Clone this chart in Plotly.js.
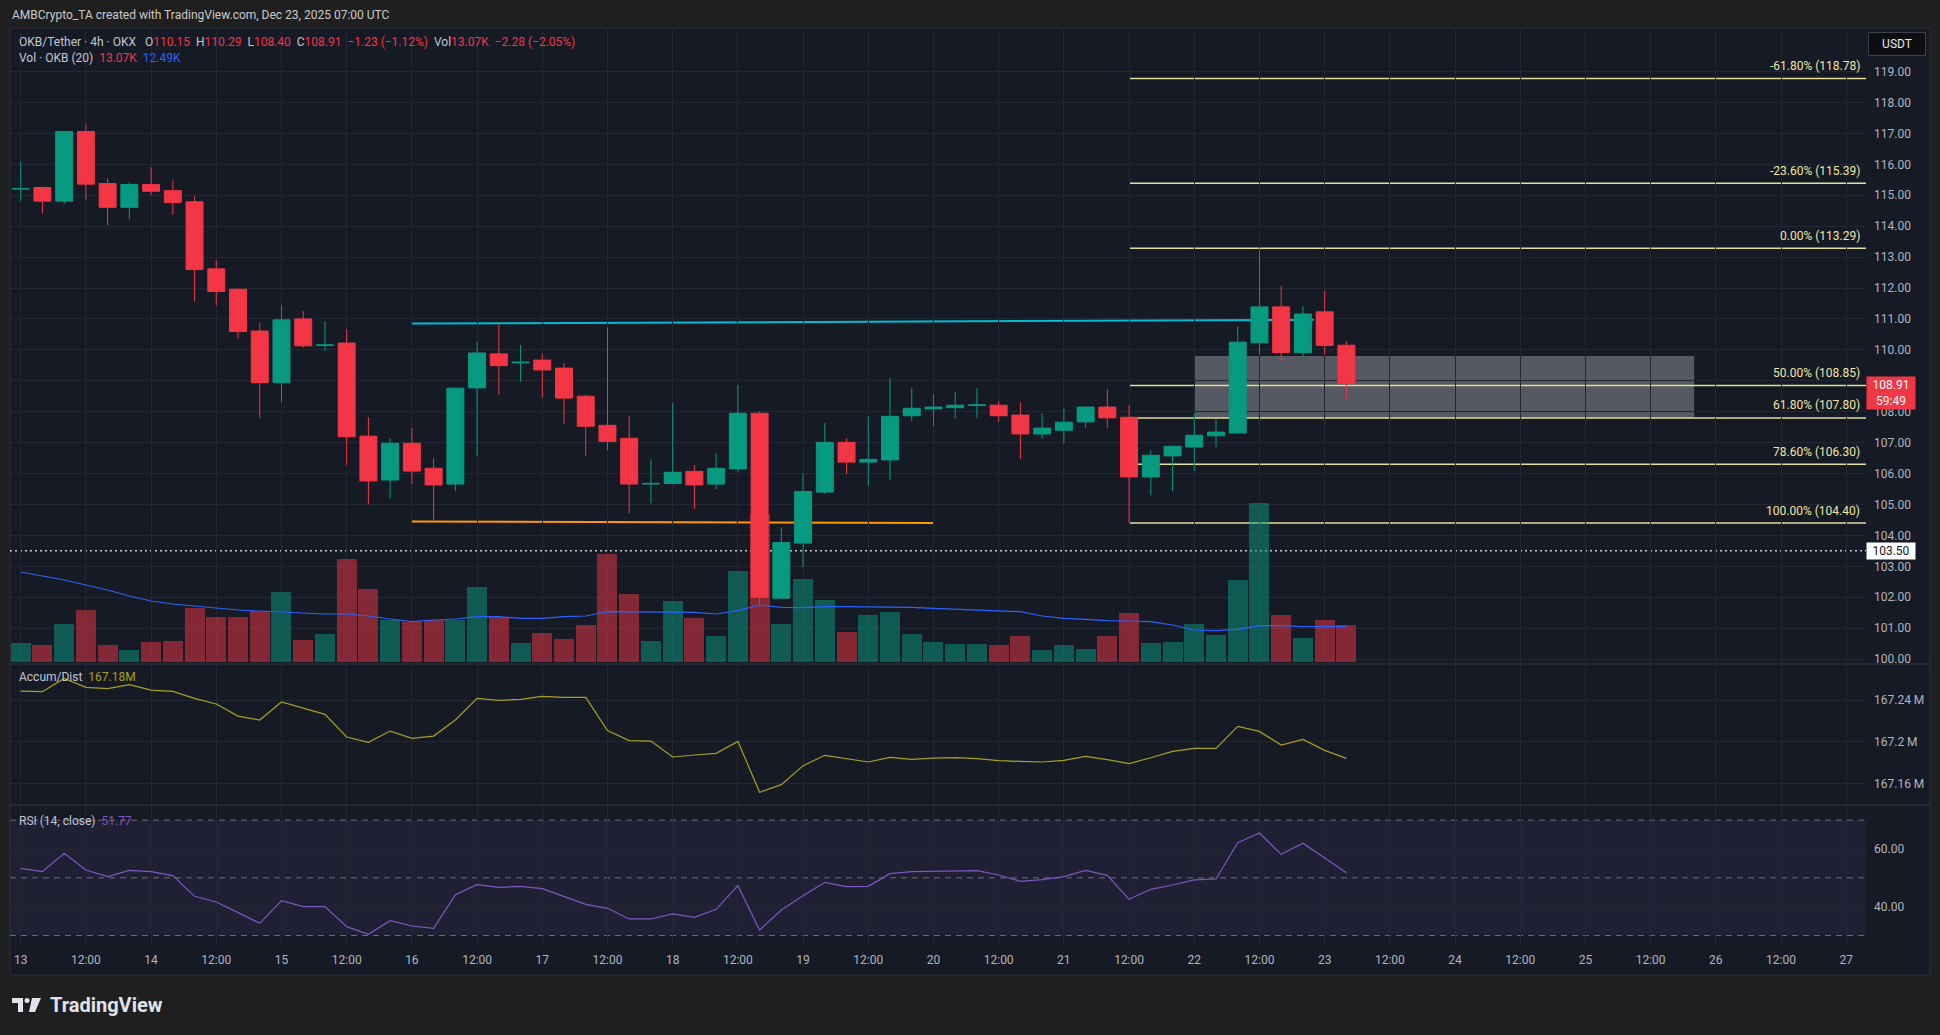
<!DOCTYPE html>
<html><head><meta charset="utf-8">
<script src="https://cdn.plot.ly/plotly-3.0.1.min.js"></script>
<style>html,body{margin:0;padding:0;background:#1f1f1f;overflow:hidden}#chart{width:1940px;height:1035px}</style>
</head><body><div id="chart"></div>
<script>
// ---------- DATA (OKB/Tether 4h, OKX) ----------
const startTime = Date.UTC(2025, 11, 13, 0, 0); // first candle: Dec 13 00:00
const openP = [115.20,115.25,114.81,117.06,115.38,114.61,115.35,115.15,114.79,112.62,
111.96,110.61,108.94,111.00,110.14,110.22,107.21,105.79,106.98,106.17,
105.66,108.77,109.87,109.58,109.67,109.41,108.50,107.56,107.14,105.66,
105.68,106.07,105.66,106.15,107.95,101.97,103.75,105.40,107.01,106.37,
106.44,107.87,108.09,108.13,108.20,108.21,107.89,107.28,107.40,107.67,
108.15,107.82,105.89,106.57,106.86,107.22,107.31,110.23,111.39,109.91,
111.23,110.15];
const highP = [116.09,115.27,117.10,117.29,115.54,115.41,115.90,115.48,114.96,112.90,
111.98,110.87,111.45,111.26,110.93,110.68,107.82,107.14,107.47,106.49,
108.78,110.25,110.83,110.16,109.87,109.57,108.54,110.72,107.85,106.46,
108.28,106.27,106.66,108.86,108.02,104.26,106.01,107.63,107.14,107.85,
109.09,108.76,108.57,108.64,108.76,108.34,108.31,107.95,108.11,108.15,
108.73,108.21,106.75,106.91,107.95,107.77,110.76,113.29,112.07,111.42,
111.92,110.29];
const lowP = [114.81,114.42,114.71,114.84,114.03,114.22,115.00,114.38,111.56,111.43,
110.36,107.80,108.32,110.07,109.97,106.28,105.00,105.20,105.66,104.48,
105.43,106.57,108.55,108.97,108.45,107.61,106.57,106.76,104.72,105.04,
105.66,104.85,105.50,106.05,101.77,101.95,102.97,105.34,105.98,105.60,
105.79,107.70,107.54,107.77,107.80,107.67,106.47,107.12,106.96,107.48,
107.48,104.40,105.30,105.43,106.08,106.86,107.31,109.84,109.65,109.78,
109.84,108.40];
const closeP = [115.22,114.81,117.06,115.36,114.61,115.35,115.13,114.77,112.60,111.89,
110.59,108.94,110.97,110.13,110.16,107.19,105.76,106.98,106.08,105.63,
108.76,109.90,109.49,109.60,109.35,108.44,107.53,107.04,105.66,105.68,
106.04,105.63,106.17,107.95,102.00,103.77,105.42,107.01,106.37,106.46,
107.85,108.11,108.15,108.21,108.22,107.87,107.28,107.47,107.66,108.15,
107.80,105.89,106.59,106.88,107.24,107.34,110.25,111.39,109.91,111.16,
110.14,108.91];
const volumeK = [6.57,6.00,13.42,18.37,6.00,4.24,7.06,7.42,19.07,15.89,
15.89,18.01,24.72,7.77,9.89,36.38,25.78,14.83,14.13,14.73,
14.98,26.38,15.89,6.60,10.14,8.02,12.96,38.04,23.91,7.31,
21.44,15.43,9.08,32.04,52.17,13.32,29.21,21.79,10.49,16.49,
17.66,9.89,7.06,6.36,6.36,6.00,9.18,4.24,6.00,4.59,
9.18,17.31,6.71,7.06,13.42,9.54,28.96,56.16,16.60,8.48,
14.83,13.07];
const volumeMA = [31.79,30.38,28.96,27.20,25.43,23.31,21.55,20.49,19.78,19.07,
18.37,18.01,17.66,17.31,16.95,16.95,16.25,15.19,14.23,14.83,
15.19,16.00,16.00,15.43,15.43,16.00,16.25,17.77,17.77,17.55,
17.77,17.55,16.95,18.12,20.13,19.32,19.18,19.53,19.53,19.53,
19.53,19.32,18.97,18.61,18.37,18.12,17.77,16.25,15.43,15.08,
14.59,14.48,14.23,13.07,11.30,11.06,11.55,12.82,12.82,12.47,
12.47,12.49];
const accumDist = [167.2486,167.2480,167.2608,167.2522,167.2509,167.2547,167.2496,167.2483,167.2416,167.2362,
167.2246,167.2208,167.2381,167.2320,167.2262,167.2045,167.1994,167.2102,167.2032,167.2054,
167.2208,167.2416,167.2397,167.2406,167.2435,167.2426,167.2426,167.2106,167.2010,167.2006,
167.1853,167.1872,167.1888,167.2003,167.1514,167.1587,167.1770,167.1869,167.1837,167.1805,
167.1850,167.1830,167.1843,167.1846,167.1837,167.1818,167.1811,167.1805,167.1821,167.1859,
167.1827,167.1789,167.1846,167.1907,167.1936,167.1936,167.2147,167.2099,167.1968,167.2022,
167.1917,167.1840];
const rsi = [53.30,52.15,58.51,52.73,50.41,52.61,52.15,50.76,43.59,41.63,
37.93,34.23,42.09,40.01,40.01,33.07,30.41,35.15,33.30,32.49,
44.17,47.64,46.71,47.06,46.25,43.48,40.82,39.43,35.73,35.73,
37.46,36.31,39.08,47.29,31.91,38.85,43.82,48.45,46.95,47.06,
51.45,52.15,52.26,52.49,52.49,50.99,48.80,49.37,50.41,52.61,
50.87,42.55,46.02,47.52,49.26,49.60,62.21,65.56,58.16,61.98,
57.00,51.77];
const timeLabels = ['13','12:00','14','12:00','15','12:00','16','12:00','17','12:00','18','12:00','19','12:00',
'20','12:00','21','12:00','22','12:00','23','12:00','24','12:00','25','12:00','26','12:00','27'];
const priceTicks = [100,101,102,103,104,105,106,107,108,109,110,111,112,113,114,115,116,117,118,119];
const adTicks = [167.16, 167.20, 167.24];
const adTickLabels = ['167.16 M', '167.2 M', '167.24 M'];
const rsiTicks = [40, 60];
const fibLevels = [118.78, 115.39, 113.29, 108.85, 107.80, 106.30, 104.40];
const fibNames = ['-61.80%', '-23.60%', '0.00%', '50.00%', '61.80%', '78.60%', '100.00%'];
const fibStart = '2025-12-21 12:00';
const resistX = ['2025-12-16 00:00', '2025-12-22 22:00'];
const resistY = [110.85, 110.97];
const supportX = ['2025-12-16 00:00', '2025-12-20 00:00'];
const supportY = [104.45, 104.40];
const zoneX = ['2025-12-22 00:00', '2025-12-25 20:00'];
const zoneY = [107.80, 109.80];
const markLine = 103.50;
const lastPrice = 108.91;

// ---------- helpers ----------
const HOUR = 3600e3;
const fmt = ms => new Date(ms).toISOString().slice(0, 16).replace('T', ' ');
const times = openP.map((_, i) => fmt(startTime + i * 4 * HOUR));
const tickDates = timeLabels.map((_, i) => fmt(startTime + i * 12 * HOUR));
const xRange = ['2025-12-12 22:02', '2025-12-27 03:38'];
const W = 1940, H = 1035;
const px = x => x / W, py = y => 1 - y / H;
const XD = [px(10), px(1866)];

const UP = '#089981', DN = '#f23645';
const GRID = '#232734';
const LBL = '#b2b5be';
const FIB = '#e4de98', FIBT = '#efe6a6';
const AD = '#a8a01c', RSIC = '#7e57c2', MA = '#2962ff';
const G = '#c3c6ce';
const sp = (c, t) => `<span style="color:${c}">${t}</span>`;
const nb = '\u00a0\u00a0';

// ---------- traces ----------
const traces = [
  { type: 'bar', x: times, y: volumeK, xaxis: 'x', yaxis: 'y',
    width: 4 * HOUR * 0.92,
    marker: { color: closeP.map((c, i) => c >= openP[i] ? 'rgba(8,153,129,0.5)' : 'rgba(242,54,69,0.5)'), line: { width: 0 } },
    hoverinfo: 'skip' },
  { type: 'scatter', mode: 'lines', x: times, y: volumeMA, xaxis: 'x', yaxis: 'y',
    line: { color: MA, width: 1.2 }, hoverinfo: 'skip' },
  { type: 'candlestick', x: times, open: openP, high: highP, low: lowP, close: closeP,
    xaxis: 'x', yaxis: 'y2', whiskerwidth: 0,
    increasing: { line: { color: UP, width: 1 }, fillcolor: UP },
    decreasing: { line: { color: DN, width: 1 }, fillcolor: DN },
    hoverinfo: 'skip' },
  { type: 'scatter', mode: 'lines', x: times, y: accumDist, xaxis: 'x2', yaxis: 'y3',
    line: { color: AD, width: 1.2 }, hoverinfo: 'skip' },
  { type: 'scatter', mode: 'lines', x: times, y: rsi, xaxis: 'x3', yaxis: 'y4',
    line: { color: RSIC, width: 1.2 }, hoverinfo: 'skip' }
];

// ---------- shapes ----------
const shapes = [
  { type: 'rect', xref: 'paper', yref: 'paper', x0: px(10), x1: px(1930), y0: py(975), y1: py(28),
    fillcolor: '#161a25', line: { color: '#2b2f3b', width: 1 }, layer: 'below' },
  { type: 'line', xref: 'paper', yref: 'paper', x0: px(10), x1: px(1930), y0: py(664), y1: py(664),
    line: { color: '#2a2e39', width: 1.5 }, layer: 'below' },
  { type: 'line', xref: 'paper', yref: 'paper', x0: px(10), x1: px(1930), y0: py(805), y1: py(805),
    line: { color: '#2a2e39', width: 1.5 }, layer: 'below' },
  { type: 'rect', xref: 'paper', yref: 'y4', x0: XD[0], x1: XD[1], y0: 30, y1: 70,
    fillcolor: 'rgba(126,87,194,0.1)', line: { width: 0 }, layer: 'below' },
  ...[70, 50, 30].map(v => ({ type: 'line', xref: 'paper', yref: 'y4', x0: XD[0], x1: XD[1], y0: v, y1: v,
    line: { color: 'rgba(140,143,154,0.7)', width: 1, dash: '6px,5px' }, layer: 'below' })),
  { type: 'rect', xref: 'x', yref: 'y2', x0: zoneX[0], x1: zoneX[1], y0: zoneY[0], y1: zoneY[1],
    fillcolor: 'rgba(255,255,255,0.28)', line: { width: 0 }, layer: 'below' },
  ...fibLevels.map(v => ({ type: 'line', xref: 'x', yref: 'y2', x0: fibStart, x1: xRange[1], y0: v, y1: v,
    line: { color: FIB, width: 1.5 }, layer: 'below' })),
  { type: 'line', xref: 'x', yref: 'y2', x0: resistX[0], x1: resistX[1], y0: resistY[0], y1: resistY[1],
    line: { color: '#00bcd4', width: 2 }, layer: 'below' },
  { type: 'line', xref: 'x', yref: 'y2', x0: supportX[0], x1: supportX[1], y0: supportY[0], y1: supportY[1],
    line: { color: '#ff9800', width: 2 }, layer: 'below' },
  { type: 'line', xref: 'paper', yref: 'y2', x0: XD[0], x1: XD[1], y0: markLine, y1: markLine,
    line: { color: 'rgba(230,232,238,0.85)', width: 1.5, dash: '2px,3px' }, layer: 'below' },
  // TradingView logo
  { type: 'path', xref: 'paper', yref: 'paper', fillcolor: '#e0e3eb', line: { width: 0 },
    path: `M${px(12)},${py(998)} L${px(23)},${py(998)} L${px(23)},${py(1012)} L${px(18)},${py(1012)} L${px(18)},${py(1003)} L${px(12)},${py(1003)} Z` },
  { type: 'circle', xref: 'paper', yref: 'paper', x0: px(24.5), x1: px(29.5), y0: py(1003), y1: py(998),
    fillcolor: '#e0e3eb', line: { width: 0 } },
  { type: 'path', xref: 'paper', yref: 'paper', fillcolor: '#e0e3eb', line: { width: 0 },
    path: `M${px(32)},${py(998)} L${px(41)},${py(998)} L${px(35)},${py(1012)} L${px(29)},${py(1012)} Z` }
];

// ---------- annotations ----------
const ann = [
  { xref: 'paper', yref: 'paper', x: px(10), y: py(15), xanchor: 'left', yanchor: 'middle', showarrow: false,
    text: 'AMBCrypto_TA created with TradingView.com, Dec 23, 2025 07:00 UTC', font: { size: 12, color: '#cacaca' } },
  { xref: 'paper', yref: 'paper', x: px(17), y: py(42), xanchor: 'left', yanchor: 'middle', showarrow: false,
    font: { size: 12, color: G },
    text: sp(G, 'OKB/Tether · 4h · OKX') + '\u00a0\u00a0\u00a0' + sp(G, 'O') + sp(DN, '110.15') + nb + sp(G, 'H') + sp(DN, '110.29') + nb +
      sp(G, 'L') + sp(DN, '108.40') + nb + sp(G, 'C') + sp(DN, '108.91') + nb + sp(DN, '−1.23 (−1.12%)') + nb +
      sp(G, 'Vol') + sp(DN, '13.07K') + nb + sp(DN, '−2.28 (−2.05%)') },
  { xref: 'paper', yref: 'paper', x: px(17), y: py(58), xanchor: 'left', yanchor: 'middle', showarrow: false,
    font: { size: 12, color: G },
    text: sp(G, 'Vol · OKB (20)') + nb + sp(DN, '13.07K') + nb + sp(MA, '12.49K') },
  { xref: 'paper', yref: 'paper', x: px(17), y: py(677), xanchor: 'left', yanchor: 'middle', showarrow: false,
    font: { size: 12, color: G }, text: sp(G, 'Accum/Dist') + nb + sp(AD, '167.18M') },
  { xref: 'paper', yref: 'paper', x: px(17), y: py(821), xanchor: 'left', yanchor: 'middle', showarrow: false,
    font: { size: 12, color: G }, text: sp(G, 'RSI (14, close)') + nb + sp(RSIC, '51.77') },
  ...fibLevels.map((v, i) => ({ xref: 'paper', yref: 'y2', x: px(1862), y: v, xanchor: 'right', yanchor: 'middle',
    yshift: 12.5, showarrow: false, text: `${fibNames[i]} (${v.toFixed(2)})`, font: { size: 12, color: FIBT } })),
  { xref: 'paper', yref: 'paper', x: px(1897), y: py(43.5), xanchor: 'center', yanchor: 'middle', showarrow: false,
    text: 'USDT', font: { size: 12, color: '#e6e8ee' }, bgcolor: '#0d0e12', bordercolor: '#3c404b', borderwidth: 1,
    borderpad: 4, width: 48 },
  { xref: 'paper', yref: 'y2', x: px(1866), y: lastPrice, xanchor: 'left', yanchor: 'top', yshift: 8, showarrow: false,
    text: lastPrice.toFixed(2) + '<br>59:49', font: { size: 12, color: '#ffffff' }, bgcolor: DN, borderpad: 1, width: 46, align: 'center' },
  { xref: 'paper', yref: 'y2', x: px(1866), y: markLine, xanchor: 'left', yanchor: 'middle', showarrow: false,
    text: markLine.toFixed(2), font: { size: 12, color: '#131722' }, bgcolor: '#ffffff', borderpad: 1, width: 46, align: 'center' },
  { xref: 'paper', yref: 'paper', x: px(48), y: py(1005), xanchor: 'left', yanchor: 'middle', showarrow: false,
    text: '<b>TradingView</b>', font: { size: 20, color: '#e0e3eb' } }
];

// ---------- layout ----------
const xBase = { type: 'date', range: xRange, domain: XD, tickmode: 'array', tickvals: tickDates,
  showgrid: true, gridcolor: GRID, gridwidth: 1, zeroline: false, showline: false, ticks: '',
  fixedrange: true, rangeslider: { visible: false } };

// the live price label covers the tick label it sits on (as on TradingView)
const priceTickText = priceTicks.map(v => Math.abs(v - lastPrice) < 0.5 ? '' : v.toFixed(2));

const layout = {
  width: W, height: H, margin: { l: 0, r: 0, t: 0, b: 0 },
  paper_bgcolor: '#1f1f1f', plot_bgcolor: 'rgba(0,0,0,0)',
  showlegend: false, hovermode: false, dragmode: false,
  boxgap: 0.22, boxgroupgap: 0, bargap: 0,
  font: { family: 'Roboto, "Liberation Sans", sans-serif', size: 12, color: LBL },
  xaxis: Object.assign({}, xBase, { anchor: 'y', showticklabels: false }),
  xaxis2: Object.assign({}, xBase, { anchor: 'y3', showticklabels: false, matches: 'x' }),
  xaxis3: Object.assign({}, xBase, { anchor: 'y4', showticklabels: true, matches: 'x', ticktext: timeLabels,
    tickfont: { size: 12, color: LBL }, ticklabelstandoff: 6 }),
  yaxis: { domain: [py(664), py(28)], range: [-0.706, 223.93], visible: false, fixedrange: true },
  yaxis2: { overlaying: 'y', side: 'right', anchor: 'x', range: [99.84, 120.41], tickmode: 'array',
    tickvals: priceTicks, ticktext: priceTickText, showgrid: true, gridcolor: GRID,
    zeroline: false, showline: false, ticks: '', ticklabelstandoff: 7, tickfont: { size: 12, color: LBL }, fixedrange: true },
  yaxis3: { domain: [py(805), py(664)], anchor: 'x2', side: 'right', range: [167.1392, 167.2746], tickmode: 'array',
    tickvals: adTicks, ticktext: adTickLabels, showgrid: true, gridcolor: GRID, zeroline: false, showline: false,
    ticks: '', ticklabelstandoff: 7, tickfont: { size: 12, color: LBL }, fixedrange: true },
  yaxis4: { domain: [py(945), py(805)], anchor: 'x3', side: 'right', range: [26.7, 75.27], tickmode: 'array',
    tickvals: rsiTicks, ticktext: rsiTicks.map(v => v.toFixed(2)), showgrid: true, gridcolor: GRID, zeroline: false,
    showline: false, ticks: '', ticklabelstandoff: 7, tickfont: { size: 12, color: LBL }, fixedrange: true },
  shapes: shapes,
  annotations: ann
};

Plotly.newPlot('chart', traces, layout, { staticPlot: true, displayModeBar: false });
</script>
</body></html>
